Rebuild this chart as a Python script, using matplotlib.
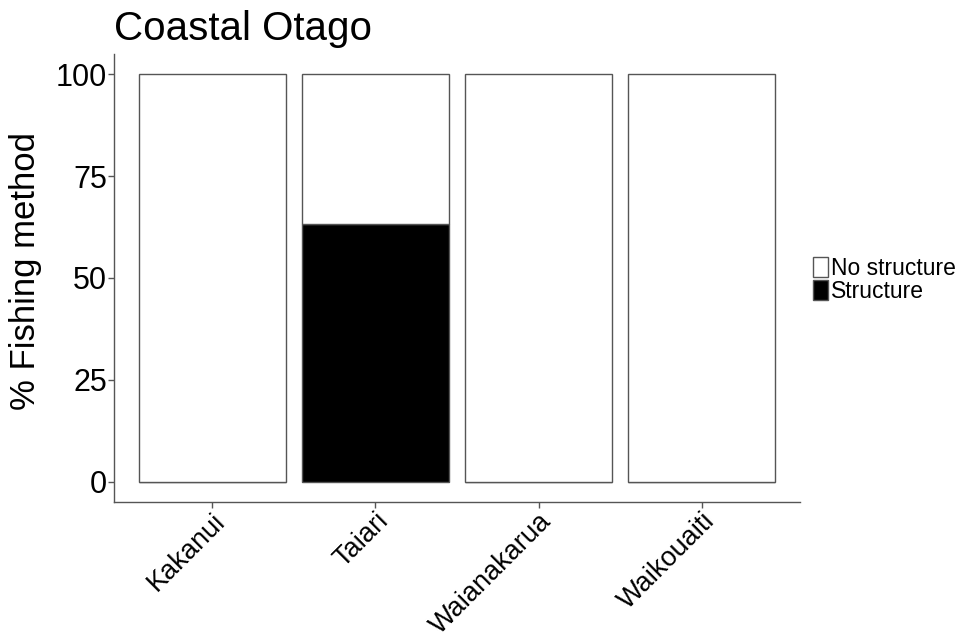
import numpy as np
import matplotlib
matplotlib.use('Agg')
import matplotlib.pyplot as plt
from matplotlib.patches import Patch

plt.rcParams['font.family'] = ['Liberation Sans', 'DejaVu Sans']

rivers = ['Kakanui', 'Taiari', 'Waianakarua', 'Waikouaiti']
structure = [0, 63.2, 0, 0]
no_structure = [100, 36.8, 100, 100]
legend_labels = ['No structure', 'Structure']
edge = '#555555'

fig = plt.figure(figsize=(9.68, 6.39), dpi=100)
ax = fig.add_axes([0.1178, 0.2138, 0.7086, 0.7023])

x = np.arange(1, len(rivers) + 1)
ax.bar(x, structure, width=0.9, color='black', edgecolor=edge, linewidth=1)
ax.bar(x, no_structure, width=0.9, bottom=structure, color='white',
       edgecolor=edge, linewidth=1)

ax.set_xlim(0.4, 4.6)
ax.set_ylim(-5, 105)
ax.set_yticks([0, 25, 50, 75, 100])
ax.set_xticks(x)
ax.set_xticklabels(rivers, rotation=45, ha='right', rotation_mode='anchor')

for side in ['top', 'right']:
    ax.spines[side].set_visible(False)
for side in ['left', 'bottom']:
    ax.spines[side].set_color(edge)
    ax.spines[side].set_linewidth(1)

ax.tick_params(axis='both', colors=edge, length=4, width=1, labelcolor='black')
ax.tick_params(axis='y', labelsize=22, pad=1)
ax.tick_params(axis='x', labelsize=19.5, pad=0)

ax.set_ylabel('% Fishing method', fontsize=25)
ax.yaxis.set_label_coords(-0.105, 0.515)
ax.set_title('Coastal Otago', loc='left', fontsize=29, pad=10)

handles = [Patch(facecolor='white', edgecolor=edge),
           Patch(facecolor='black', edgecolor=edge)]
fig.legend(handles, legend_labels, loc='center left',
           bbox_to_anchor=(0.840, 0.562), frameon=False, fontsize=16.5,
           handlelength=0.65, handleheight=1.0, labelspacing=0.0,
           handletextpad=0.15, borderpad=0, borderaxespad=0)

fig.savefig('out.png', dpi=100)
